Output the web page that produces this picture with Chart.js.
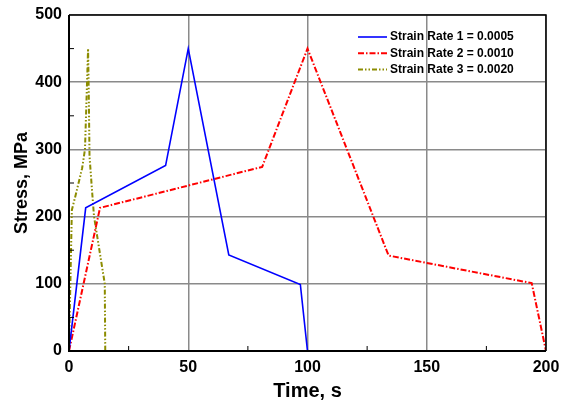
<!DOCTYPE html>
<html>
<head>
<meta charset="utf-8">
<script src="https://cdn.jsdelivr.net/npm/chart.js@4.4.1/dist/chart.umd.min.js"></script>
<style>
html,body{margin:0;padding:0;background:#fff;}
#wrap{width:562px;height:407px;}
</style>
</head>
<body>
<div id="wrap"><canvas id="c" width="562" height="407"></canvas></div>
<script>
// Data
const seriesLabels = ["Strain Rate 1 = 0.0005", "Strain Rate 2 = 0.0010", "Strain Rate 3 = 0.0020"];
const time1 = [0, 7, 40.5, 50, 67, 97, 100];
const stress1 = [0, 213, 276, 450, 143, 99, 0];
const time2 = [0, 13, 81, 100, 134, 194, 200];
const stress2 = [0, 213, 274, 450, 142, 101, 0];
const time3 = [0, 1.2, 3, 5.5, 6.7, 8, 8.3, 8.6, 9.8, 10.5, 15, 15.2];
const stress3 = [0, 210, 235, 272, 300, 450, 380, 290, 232, 200, 100, 0];
const xTicks = [0, 50, 100, 150, 200];
const yTicks = [0, 100, 200, 300, 400, 500];
const xMinor = [25, 75, 125, 175];
const yMinor = [50, 150, 250, 350, 450];

const colors = ["#0000ff", "#ff0000", "#8c8c00"];
const dashes = [[], [6, 2, 1.5, 2], [5, 2, 1.5, 2, 1.5, 2]];
const widths = [1.6, 2, 2];

function pts(t, s) { return t.map((v, i) => ({x: v, y: s[i]})); }
const allData = [pts(time1, stress1), pts(time2, stress2), pts(time3, stress3)];

const datasets = allData.map((d, i) => ({
  label: seriesLabels[i],
  data: d,
  showLine: true,
  borderColor: colors[i],
  backgroundColor: colors[i],
  borderWidth: widths[i],
  borderDash: dashes[i],
  pointRadius: 0,
  tension: 0,
  fill: false
}));

const frame = {
  id: 'frame',
  afterDatasetsDraw(chart) {
    const {ctx, chartArea: a, scales} = chart;
    ctx.save();
    ctx.strokeStyle = '#000';
    ctx.lineWidth = 1.5;
    ctx.beginPath();
    ctx.moveTo(a.left, a.top); ctx.lineTo(a.right, a.top); ctx.lineTo(a.right, a.bottom);
    ctx.stroke();
    ctx.lineWidth = 2;
    ctx.beginPath();
    ctx.moveTo(a.left, a.top); ctx.lineTo(a.left, a.bottom); ctx.lineTo(a.right, a.bottom);
    ctx.stroke();
    ctx.lineWidth = 1;
    ctx.beginPath();
    xMinor.forEach(v => { const x = scales.x.getPixelForValue(v); ctx.moveTo(x, a.bottom); ctx.lineTo(x, a.bottom - 5); });
    yMinor.forEach(v => { const y = scales.y.getPixelForValue(v); ctx.moveTo(a.left, y); ctx.lineTo(a.left + 5, y); });
    ctx.stroke();
    // legend
    ctx.font = 'bold 12px "Liberation Sans", Arial, sans-serif';
    ctx.textBaseline = 'middle';
    ctx.textAlign = 'left';
    const lx = 358, ly = 37, rowH = 16.3, lineLen = 29;
    chart.data.datasets.forEach((ds, i) => {
      const y = ly + i * rowH;
      ctx.strokeStyle = ds.borderColor;
      ctx.lineWidth = ds.borderWidth;
      ctx.setLineDash(ds.borderDash);
      ctx.beginPath(); ctx.moveTo(lx, y); ctx.lineTo(lx + lineLen, y); ctx.stroke();
      ctx.setLineDash([]);
      ctx.fillStyle = '#000';
      ctx.fillText(ds.label, lx + lineLen + 3, y);
    });
    ctx.restore();
  }
};

const tickFont = {family: '"Liberation Sans", Arial, sans-serif', size: 16, weight: 'bold'};
const xTitleFont = {family: '"Liberation Sans", Arial, sans-serif', size: 20, weight: 'bold'};
const yTitleFont = {family: '"Liberation Sans", Arial, sans-serif', size: 18, weight: 'bold'};

new Chart(document.getElementById('c'), {
  type: 'scatter',
  data: {datasets},
  plugins: [frame],
  options: {
    responsive: false,
    animation: false,
    layout: {padding: {left: 0, right: 16, top: 15, bottom: 0}},
    plugins: {legend: {display: false}, tooltip: {enabled: false}},
    scales: {
      x: {
        type: 'linear', min: 0, max: 200,
        afterBuildTicks: s => { s.ticks = xTicks.map(v => ({value: v})); },
        afterFit: s => { s.height = 56; s.paddingRight = 0; s.paddingLeft = 0; },
        grid: {color: '#8a8a8a', lineWidth: 1.5, drawTicks: false},
        border: {display: false},
        ticks: {font: tickFont, color: '#000', padding: 7, maxRotation: 0},
        title: {display: true, text: 'Time, s', font: xTitleFont, color: '#000', padding: {top: 2, bottom: 4}}
      },
      y: {
        type: 'linear', min: 0, max: 500,
        afterBuildTicks: s => { s.ticks = yTicks.map(v => ({value: v})); },
        afterFit: s => { s.width = 69; s.paddingTop = 0; s.paddingBottom = 0; },
        grid: {color: '#8a8a8a', lineWidth: 1.5, drawTicks: false},
        border: {display: false},
        ticks: {font: tickFont, color: '#000', padding: 7},
        title: {display: true, text: 'Stress, MPa', font: yTitleFont, color: '#000', padding: {top: 11, bottom: 0}}
      }
    }
  }
});
</script>
</body>
</html>
